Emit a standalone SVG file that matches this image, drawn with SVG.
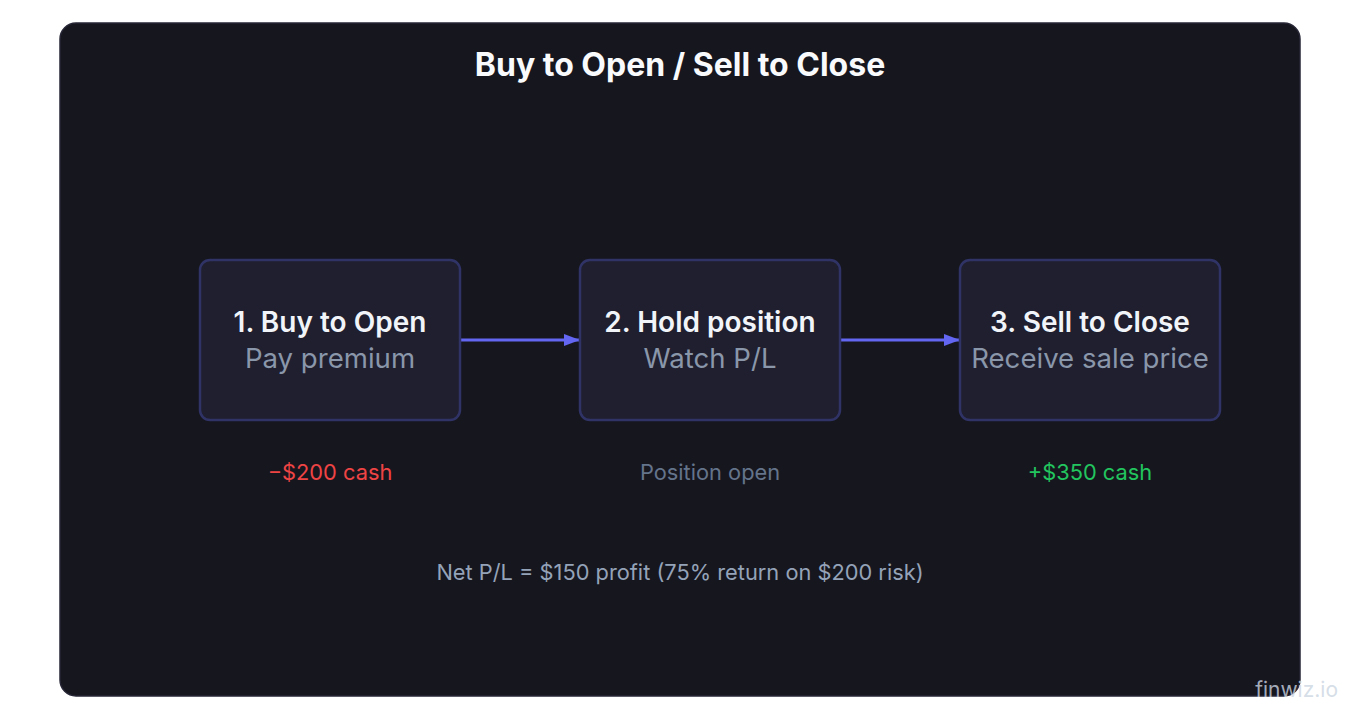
<svg xmlns="http://www.w3.org/2000/svg" width="1360" height="720" viewBox="0 0 1360 720">
<defs>
<style>
text{font-family:Inter,"Liberation Sans",sans-serif;}
.box{fill:#1f1f2f;stroke:#303366;stroke-width:2.5;}
.t{font-size:28px;font-weight:600;fill:#f1f5f9;text-anchor:middle;}
.s{font-size:27.6px;fill:#8a96aa;text-anchor:middle;}
.n{font-size:21.8px;text-anchor:middle;}
.c{stroke:#6366f1;stroke-width:3;fill:none;}
</style>
<marker id="arr" viewBox="0 0 16 12" refX="16" refY="6" markerWidth="16" markerHeight="12" markerUnits="userSpaceOnUse" orient="auto">
<path d="M0,0 L16,6 L0,12 z" fill="#6366f1"/>
</marker>
</defs>
<rect width="1360" height="720" fill="#ffffff"/>
<rect x="60" y="23" width="1240" height="673" rx="16" fill="#16161f" stroke="#262636" stroke-width="1.5"/>
<text x="680" y="76" font-size="32" font-weight="700" fill="#f8fafc" text-anchor="middle">Buy to Open / Sell to Close</text>
<g id="connectors">
<line class="c" x1="460" y1="340" x2="580" y2="340" marker-end="url(#arr)"/>
<line class="c" x1="840" y1="340" x2="960" y2="340" marker-end="url(#arr)"/>
</g>
<g id="node1">
<rect class="box" x="200" y="260" width="260" height="160" rx="10"/>
<text class="t" x="330" y="332">1. Buy to Open</text>
<text class="s" x="330" y="368">Pay premium</text>
</g>
<g id="node2">
<rect class="box" x="580" y="260" width="260" height="160" rx="10"/>
<text class="t" x="710" y="332">2. Hold position</text>
<text class="s" x="710" y="368">Watch P/L</text>
</g>
<g id="node3">
<rect class="box" x="960" y="260" width="260" height="160" rx="10"/>
<text class="t" x="1090" y="332">3. Sell to Close</text>
<text class="s" x="1090" y="368">Receive sale price</text>
</g>
<g id="notes">
<text class="n" x="330" y="480" fill="#ef4444">−$200 cash</text>
<text class="n" x="710" y="480" fill="#64748b">Position open</text>
<text class="n" x="1090" y="480" fill="#22c55e">+$350 cash</text>
<text class="n" x="680" y="580" fill="#94a3b8">Net P/L = $150 profit (75% return on $200 risk)</text>
</g>
<text x="1338" y="697" font-size="21" fill="#cbd5e1" text-anchor="end" fill-opacity="0.8">finwiz.io</text>
</svg>
